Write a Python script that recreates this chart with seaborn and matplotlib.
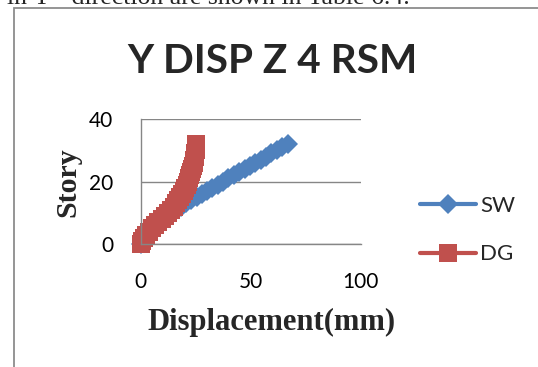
import matplotlib
matplotlib.use("Agg")
import matplotlib.pyplot as plt
import matplotlib.patches as mpatches
from matplotlib import font_manager
import seaborn as sns

# ---- data ----
stories = list(range(0, 33))
sw_disp = [0.0, 0.8, 1.8, 3.0, 4.4, 5.8, 7.3, 8.9, 10.5, 12.2, 14.0, 16.2, 18.5,
           20.8, 23.1, 25.4, 27.8, 30.2, 32.6, 35.0, 37.5, 39.9, 42.4, 44.8,
           47.3, 49.7, 52.2, 54.6, 57.1, 59.5, 62.0, 64.4, 66.8]
dg_disp = [0.3, 0.6, 1.5, 2.6, 3.8, 5.1, 6.5, 8.0, 9.5, 11.0, 12.5, 13.8, 15.0,
           16.1, 17.1, 18.0, 18.8, 19.6, 20.3, 21.0, 21.6, 22.1, 22.6, 23.0,
           23.4, 23.8, 24.1, 24.4, 24.7, 24.9, 25.1, 25.2, 25.3]
series_names = ["SW", "DG"]
x_ticks = [0, 50, 100]
y_ticks = [0, 20, 40]
title_text = "Y DISP Z 4 RSM"
x_label = "Displacement(mm)"
y_label = "Story"
doc_text = "in Y - direction are shown in Table 6.4."

BLUE = "#4F81BD"
RED = "#C0504D"
GREY = "#868686"

sns.set_theme(style="white")
plt.rcParams["font.family"] = ["Lato", "DejaVu Sans"]

installed = {f.name for f in font_manager.fontManager.ttflist}
title_family = "Liberation Sans Narrow" if "Liberation Sans Narrow" in installed else "Lato"

W, H = 538, 367
fig = plt.figure(figsize=(W / 100, H / 100), dpi=100)
ax = fig.add_axes([140.7 / W, 1 - 244 / H, 219.8 / W, 125 / H])

sns.lineplot(x=sw_disp, y=stories, sort=False, estimator=None, ax=ax,
             color=BLUE, marker="D", markersize=10.5, markeredgewidth=0,
             linewidth=3, label=series_names[0], clip_on=False)
sns.lineplot(x=dg_disp, y=stories, sort=False, estimator=None, ax=ax,
             color=RED, marker="s", markersize=13, markeredgewidth=0,
             linewidth=3, label=series_names[1], clip_on=False)

ax.set_xlim(0, 100)
ax.set_ylim(0, 40)
ax.set_xticks(x_ticks)
ax.set_yticks(y_ticks)
ax.yaxis.grid(True, color=GREY, linewidth=1)
ax.xaxis.grid(False)
ax.set_axisbelow(True)
for s in ["top", "right"]:
    ax.spines[s].set_visible(False)
for s in ["left", "bottom"]:
    ax.spines[s].set_color(GREY)
    ax.spines[s].set_linewidth(1)
ax.tick_params(axis="both", direction="out", length=5.8, width=1, color=GREY,
               labelsize=15, labelcolor="black", pad=14)

serif = ["Liberation Serif", "DejaVu Serif"]
ax.set_xlabel(x_label, fontfamily=serif, fontweight="bold", fontsize=22)
ax.xaxis.set_label_coords((271 - 140.7) / 219.8, (244 - 330) / 125)
ax.xaxis.label.set_va("baseline")
ax.set_ylabel(y_label, fontfamily=serif, fontweight="bold", fontsize=21.5)
ax.yaxis.set_label_coords((67.5 - 140.7) / 219.8, (244 - 181.7) / 125)
ax.yaxis.label.set_va("center")
ax.yaxis.label.set_ha("center")

leg = ax.legend(loc="center left", bbox_to_anchor=(420 / W, 1 - 230 / H),
                bbox_transform=fig.transFigure, frameon=False, fontsize=16,
                handlelength=2.5, handletextpad=0.2, labelspacing=1.3,
                borderpad=0, borderaxespad=0)

title = fig.text(272 / W, 1 - 73 / H, title_text, ha="center", va="baseline",
                 fontsize=36, fontweight="bold", fontfamily=title_family)
# fit the title to the reference width (~290 px)
renderer = fig.canvas.get_renderer()
w = title.get_window_extent(renderer).width
title.set_fontsize(min(40, 36 * 290 / w))

# chart border (only left and top edges visible in the crop)
fig.add_artist(mpatches.Rectangle((14 / W, -0.1), 1.0, 1 - 8 / H + 0.1,
                                  transform=fig.transFigure, fill=False,
                                  edgecolor="#8C8C8C", linewidth=1.3))
# clipped line of surrounding document text
fig.text(7 / W, 1 - 4 / H, doc_text, ha="left", va="baseline", fontsize=18.5,
         fontfamily=serif)

fig.savefig("out.png", dpi=100)
